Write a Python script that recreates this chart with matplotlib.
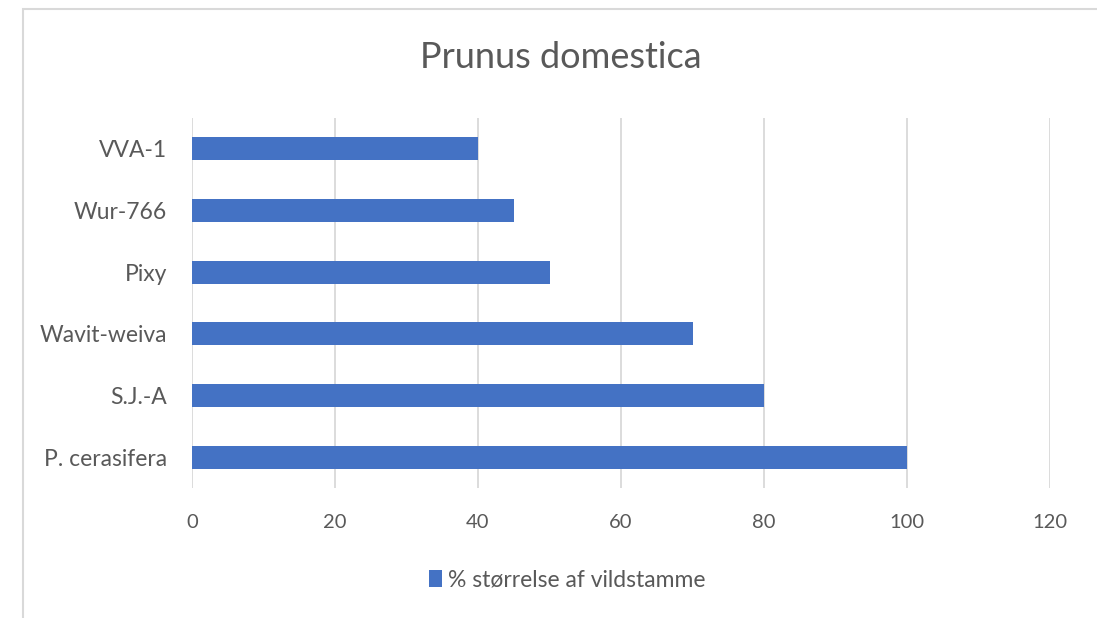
import matplotlib.pyplot as plt
from matplotlib.patches import Rectangle

categories = ["P. cerasifera", "S.J.-A", "Wavit-weiva", "Pixy", "Wur-766", "VVA-1"]
values = [100, 80, 70, 50, 45, 40]
xticks = [0, 20, 40, 60, 80, 100, 120]
series_name = "% størrelse af vildstamme"

plt.rcParams['font.family'] = ['Lato', 'DejaVu Sans']
grey = "#595959"

fig = plt.figure(figsize=(10.97, 6.18), dpi=100)
ax = fig.add_axes([192/1097, 1 - 488/618, (1050 - 192)/1097, (488 - 118)/618])

ax.barh(range(len(categories)), values, height=0.37, color="#4472c4",
        label=series_name, zorder=3)
ax.set_ylim(-0.5, len(categories) - 0.5)
ax.set_xlim(0, 120)
ax.set_xticks(xticks)
ax.set_yticks(range(len(categories)))
ax.set_yticklabels(categories)
ax.grid(axis='x', color="#d9d9d9", linewidth=1.3, zorder=0)
ax.tick_params(length=0, labelcolor=grey)
ax.tick_params(axis='x', pad=19, labelsize=14.5)
ax.tick_params(axis='y', pad=18, labelsize=16.5)
for s in ax.spines.values():
    s.set_visible(False)

fig.text(561/1097, 1 - 58/618, "Prunus domestica", ha='center', va='center',
         fontsize=26, color=grey)

fig.legend(loc='center', bbox_to_anchor=(567/1097, 1 - 580/618), frameon=False,
           fontsize=16.5, labelcolor=grey, handlelength=0.6, handleheight=0.8,
           handletextpad=0.25)

# chart border (cut off at right and bottom in the screenshot)
fig.patches.append(Rectangle((23/1097, -0.1), 1.2, 1 - 9/618 + 0.1,
                             transform=fig.transFigure, fill=False,
                             edgecolor="#d9d9d9", linewidth=1.5))

fig.savefig("out.png", dpi=100)
